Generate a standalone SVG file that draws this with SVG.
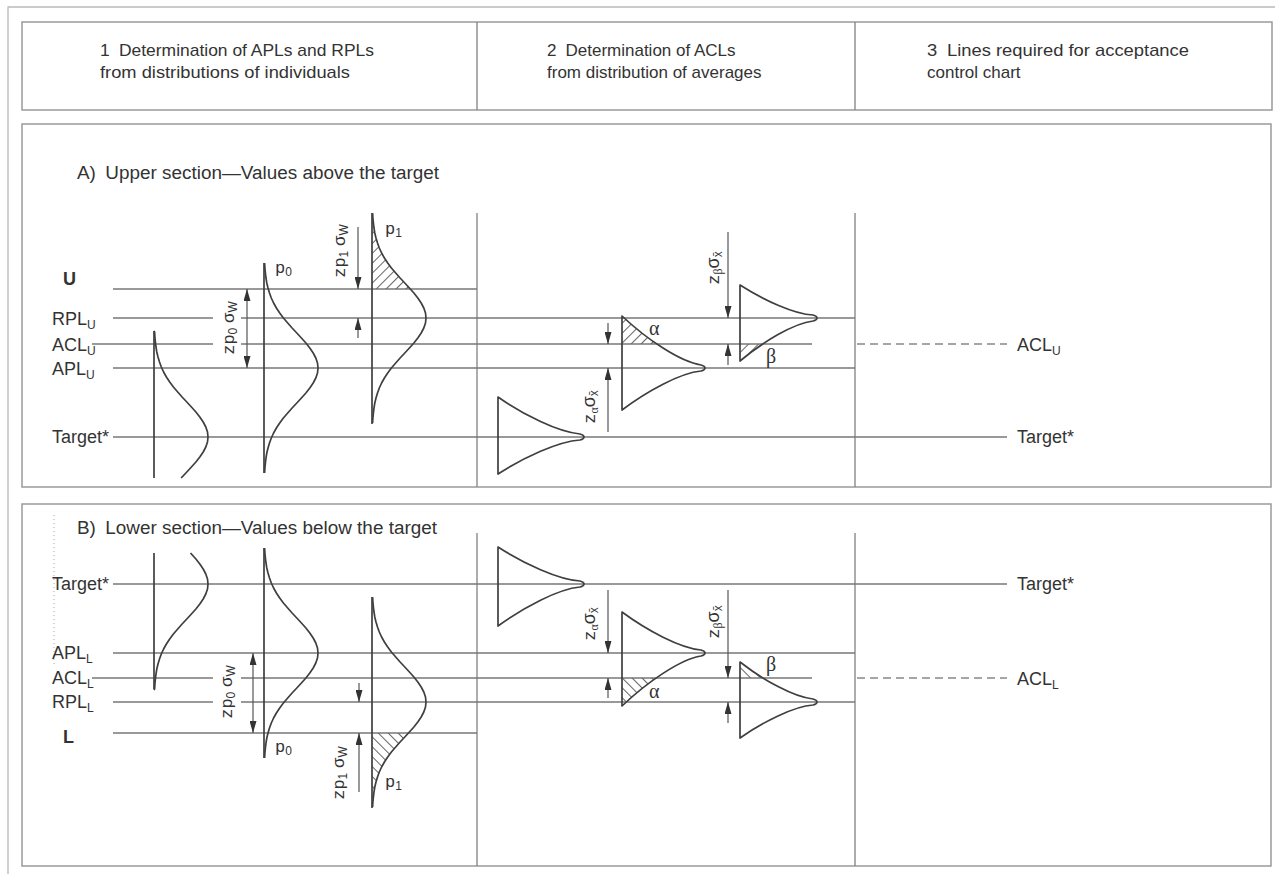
<svg xmlns="http://www.w3.org/2000/svg" width="1275" height="874" viewBox="0 0 1275 874">
<style>
 .frame{fill:none;stroke:#9a9a9a;stroke-width:1.5}
 .outer{fill:none;stroke:#bbb;stroke-width:1.3}
 .div{stroke:#8a8a8a;stroke-width:1.4}
 .lvl{stroke:#777;stroke-width:1.3;fill:none}
 .dash{stroke:#888;stroke-width:1.3;stroke-dasharray:8 5}
 .crv{fill:none;stroke:#3f3f3f;stroke-width:1.7;stroke-linejoin:round}
 .base{stroke:#3f3f3f;stroke-width:1.7}
 .arw{stroke:#555;stroke-width:1.2;fill:none;marker-end:url(#ah)}
 .t{font-family:"Liberation Sans",Arial,sans-serif;font-size:17px;fill:#333}
 .lb{font-family:"Liberation Sans",Arial,sans-serif;font-size:18px;fill:#333}
 .b{font-weight:bold}
 .m{font-family:"Liberation Mono","DejaVu Sans Mono",monospace;font-size:17px;fill:#333}
 .s{font-family:"Liberation Sans",Arial,sans-serif}
 .g{font-family:"Liberation Serif","DejaVu Serif",serif;font-size:20px;fill:#333}
 .sub{font-size:12px}
 .hU{fill:url(#hatchU);stroke:none}
 .hL{fill:url(#hatchL);stroke:none}
</style>
<defs>
 <marker id="ah" viewBox="0 0 12 7" refX="12" refY="3.5" markerWidth="12" markerHeight="7" markerUnits="userSpaceOnUse" orient="auto">
  <path d="M0,0 L12,3.5 L0,7 Z" fill="#333"/>
 </marker>
 <pattern id="hatchU" width="7" height="7" patternUnits="userSpaceOnUse" patternTransform="rotate(45)">
  <line x1="3.5" y1="-1" x2="3.5" y2="8" stroke="#666" stroke-width="1"/>
 </pattern>
 <pattern id="hatchL" width="7" height="7" patternUnits="userSpaceOnUse" patternTransform="rotate(-45)">
  <line x1="3.5" y1="-1" x2="3.5" y2="8" stroke="#666" stroke-width="1"/>
 </pattern>
 <clipPath id="cUB"><rect x="0" y="-53" width="84" height="29"/></clipPath>
 <clipPath id="cUC"><rect x="0" y="26" width="78" height="18"/></clipPath>
 <clipPath id="cLB"><rect x="0" y="25" width="84" height="29"/></clipPath>
 <clipPath id="cLC"><rect x="0" y="-41" width="78" height="17"/></clipPath>
 <path id="bell" d="M0.6,-105 L0.9,-100 L1.4,-95 L2,-90 L2.8,-85 L4,-80 L5.5,-75 L7.3,-70 L9.6,-65 L12.4,-60 L15.7,-55 L19.4,-50 L23.7,-45 L28.1,-40 L32.8,-35 L37.4,-30 L41.9,-25 L45.8,-20 L49.2,-15 L51.8,-10 L53.5,-5 L54,0 L53.5,5 L51.8,10 L49.2,15 L45.8,20 L41.9,25 L37.4,30 L32.8,35 L28.1,40 L23.7,45 L19.4,50 L15.7,55 L12.4,60 L9.6,65 L7.3,70 L5.5,75 L4,80 L2.8,85 L2,90 L1.4,95 L0.9,100 L0.6,105"/>
</defs>

<rect width="1275" height="874" fill="#fff"/>

<!-- frames -->
<g id="frames">
 <path class="outer" d="M8,874 L8,7 L1275,7"/>
 <rect class="frame" x="22" y="22" width="1250" height="88"/>
 <rect class="frame" x="22" y="124" width="1249" height="363"/>
 <rect class="frame" x="22" y="504" width="1249" height="362"/>
 <line class="div" x1="477" y1="22" x2="477" y2="110"/>
 <line class="div" x1="855" y1="22" x2="855" y2="110"/>
 <line class="div" x1="477" y1="213" x2="477" y2="487"/>
 <line class="div" x1="855" y1="213" x2="855" y2="487"/>
 <line class="div" x1="477" y1="533" x2="477" y2="866"/>
 <line class="div" x1="855" y1="533" x2="855" y2="866"/>
 <line x1="54" y1="515" x2="54" y2="665" stroke="#aaa" stroke-width="1" stroke-dasharray="1 3"/>
</g>

<!-- header -->
<g id="header">
 <text class="t" x="100" y="56" textLength="274" lengthAdjust="spacingAndGlyphs">1<tspan dx="9">Determination of APLs and RPLs</tspan></text>
 <text class="t" x="100" y="78" textLength="250" lengthAdjust="spacingAndGlyphs">from distributions of individuals</text>
 <text class="t" x="547" y="56">2<tspan dx="9">Determination of ACLs</tspan></text>
 <text class="t" x="547" y="78">from distribution of averages</text>
 <text class="t" x="927" y="56" textLength="262" lengthAdjust="spacingAndGlyphs">3<tspan dx="9">Lines required for acceptance</tspan></text>
 <text class="t" x="927" y="78">control chart</text>
</g>

<!-- level lines -->
<g id="levels">
 <line class="lvl" x1="113" y1="289" x2="477" y2="289"/>
 <line class="lvl" x1="113" y1="318" x2="855" y2="318"/>
 <line class="lvl" x1="92" y1="344" x2="812" y2="344"/>
 <line class="dash" x1="857" y1="344" x2="1007" y2="344"/>
 <line class="lvl" x1="113" y1="368" x2="855" y2="368"/>
 <line class="lvl" x1="113" y1="437" x2="1007" y2="437"/>

 <line class="lvl" x1="113" y1="584" x2="1007" y2="584"/>
 <line class="lvl" x1="113" y1="653" x2="855" y2="653"/>
 <line class="lvl" x1="92" y1="678" x2="812" y2="678"/>
 <line class="dash" x1="857" y1="678" x2="1007" y2="678"/>
 <line class="lvl" x1="113" y1="702" x2="855" y2="702"/>
 <line class="lvl" x1="113" y1="733" x2="477" y2="733"/>
 <rect x="213" y="296" width="28" height="62" fill="#fff"/>
 <rect x="213" y="660" width="28" height="62" fill="#fff"/>
</g>

<!-- upper section -->
<g id="upper">
 <text class="lb" x="77" y="179" textLength="362" lengthAdjust="spacingAndGlyphs">A)<tspan dx="9">Upper section</tspan>—Values above the target</text>
 <text class="lb b" x="63" y="285">U</text>
 <text class="lb" x="52" y="325">RPL<tspan class="sub" dy="4">U</tspan></text>
 <text class="lb" x="52" y="351">ACL<tspan class="sub" dy="4">U</tspan></text>
 <text class="lb" x="52" y="375">APL<tspan class="sub" dy="4">U</tspan></text>
 <text class="lb" x="52" y="443">Target*</text>
 <text class="lb" x="1017" y="351">ACL<tspan class="sub" dy="4">U</tspan></text>
 <text class="lb" x="1017" y="443">Target*</text>

 <g id="u-ind" transform="translate(154,437)">
  <line class="base" x1="0" y1="-106" x2="0" y2="41"/>
  <path class="crv" d="M0,-106 L0.6,-105 L0.9,-100 L1.4,-95 L2,-90 L2.8,-85 L4,-80 L5.5,-75 L7.3,-70 L9.6,-65 L12.4,-60 L15.7,-55 L19.4,-50 L23.7,-45 L28.1,-40 L32.8,-35 L37.4,-30 L41.9,-25 L45.8,-20 L49.2,-15 L51.8,-10 L53.5,-5 L54,0 L53.5,5 L51.8,10 L49.2,15 L45.8,20 L41.9,25 L37.4,30 L32.8,35 L28.1,40 L27.2,41"/>
 </g>
 <g id="u-p0" transform="translate(264,368)">
  <line class="base" x1="0" y1="-105" x2="0" y2="105"/>
  <use href="#bell" class="crv"/>
  <text class="m" x="11" y="-95">p<tspan class="s sub" dy="3">0</tspan></text>
 </g>
 <g id="u-p1" transform="translate(372,318)">
  <path class="hU" d="M0,-105 L0.6,-105 L0.9,-100 L1.4,-95 L2,-90 L2.8,-85 L4,-80 L5.5,-75 L7.3,-70 L9.6,-65 L12.4,-60 L15.7,-55 L19.4,-50 L23.7,-45 L28.1,-40 L32.8,-35 L37.4,-30 L38.3,-29 L0,-29 Z"/>
  <line class="base" x1="0" y1="-105" x2="0" y2="106"/>
  <use href="#bell" class="crv"/>
  <text class="m" x="13" y="-84">p<tspan class="s sub" dy="3">1</tspan></text>
 </g>
 <g id="u-avgT" transform="translate(498,437)">
  <path class="crv" d="M0,-40 C25.8,-22 60.2,-4.8 82,-3 Q86,-2 86,0 Q86,2 82,3 C60.2,4.4 25.8,20.4 0,37 Z"/>
 </g>
 <g id="u-avgA" transform="translate(622,368)">
  <path class="hU" clip-path="url(#cUB)" d="M0,-52 C24.9,-28.6 58.1,-6.2 79,-3 Q83,-2 83,0 Q83,2 79,3 C58.1,5 24.9,23.1 0,42 Z"/>
  <path class="crv" d="M0,-52 C24.9,-28.6 58.1,-6.2 79,-3 Q83,-2 83,0 Q83,2 79,3 C58.1,5 24.9,23.1 0,42 Z"/>
  <text class="g" x="27" y="-33">α</text>
 </g>
 <g id="u-avgR" transform="translate(740,318)">
  <path class="hU" clip-path="url(#cUC)" d="M0,-33 C23.1,-18.2 53.9,-4 73,-3 Q77,-2 77,0 Q77,2 73,3 C53.9,5.2 23.1,23.7 0,43 Z"/>
  <path class="crv" d="M0,-33 C23.1,-18.2 53.9,-4 73,-3 Q77,-2 77,0 Q77,2 73,3 C53.9,5.2 23.1,23.7 0,43 Z"/>
  <text class="g" x="26" y="45">β</text>
 </g>
 <g id="u-labels">
  <text class="m" transform="translate(234,328) rotate(-90)" text-anchor="middle">zp<tspan class="s sub" dy="3">0</tspan><tspan class="s" dy="-3" font-size="17"> σ</tspan><tspan class="s sub" dy="3">W</tspan></text>
  <text class="m" transform="translate(345,251) rotate(-90)" text-anchor="middle">zp<tspan class="s sub" dy="3">1</tspan><tspan class="s" dy="-3" font-size="17"> σ</tspan><tspan class="s sub" dy="3">W</tspan></text>
  <text class="m" transform="translate(595,407) rotate(-90)" text-anchor="middle">z<tspan class="g sub" dy="3">α</tspan><tspan class="s" dy="-3" font-size="18">σ</tspan><tspan class="s sub" dy="3">x̄</tspan></text>
  <text class="m" transform="translate(719,268) rotate(-90)" text-anchor="middle">z<tspan class="g sub" dy="3">β</tspan><tspan class="s" dy="-3" font-size="18">σ</tspan><tspan class="s sub" dy="3">x̄</tspan></text>
 </g>
</g>

<!-- lower section -->
<g id="lower">
 <text class="lb" x="77" y="534" textLength="360" lengthAdjust="spacingAndGlyphs">B)<tspan dx="9">Lower section</tspan>—Values below the target</text>
 <text class="lb" x="52" y="590">Target*</text>
 <text class="lb" x="52" y="659">APL<tspan class="sub" dy="4">L</tspan></text>
 <text class="lb" x="52" y="684">ACL<tspan class="sub" dy="4">L</tspan></text>
 <text class="lb" x="52" y="708">RPL<tspan class="sub" dy="4">L</tspan></text>
 <text class="lb b" x="63" y="743">L</text>
 <text class="lb" x="1017" y="590">Target*</text>
 <text class="lb" x="1017" y="685">ACL<tspan class="sub" dy="4">L</tspan></text>

 <g id="l-ind" transform="translate(154,584)">
  <line class="base" x1="0" y1="-31" x2="0" y2="105"/>
  <path class="crv" d="M36.5,-31 L37.4,-30 L41.9,-25 L45.8,-20 L49.2,-15 L51.8,-10 L53.5,-5 L54,0 L53.5,5 L51.8,10 L49.2,15 L45.8,20 L41.9,25 L37.4,30 L32.8,35 L28.1,40 L23.7,45 L19.4,50 L15.7,55 L12.4,60 L9.6,65 L7.3,70 L5.5,75 L4,80 L2.8,85 L2,90 L1.4,95 L0.9,100 L0.6,105 L0,106"/>
 </g>
 <g id="l-p0" transform="translate(264,653)">
  <line class="base" x1="0" y1="-105" x2="0" y2="105"/>
  <use href="#bell" class="crv"/>
  <text class="m" x="11" y="99">p<tspan class="s sub" dy="3">0</tspan></text>
 </g>
 <g id="l-p1" transform="translate(372,702)">
  <path class="hL" d="M0,31 L36.5,31 L32.8,35 L28.1,40 L23.7,45 L19.4,50 L15.7,55 L12.4,60 L9.6,65 L7.3,70 L5.5,75 L4,80 L2.8,85 L2,90 L1.4,95 L0.9,100 L0.6,105 L0,105 Z"/>
  <line class="base" x1="0" y1="-105" x2="0" y2="106"/>
  <use href="#bell" class="crv"/>
  <text class="m" x="13" y="85">p<tspan class="s sub" dy="3">1</tspan></text>
 </g>
 <g id="l-avgT" transform="translate(498,584)">
  <path class="crv" d="M0,-37 C25.8,-20.4 60.2,-4.4 82,-3 Q86,-2 86,0 Q86,2 82,3 C60.2,5 25.8,23.1 0,42 Z"/>
 </g>
 <g id="l-avgA" transform="translate(622,653)">
  <path class="hL" clip-path="url(#cLB)" d="M0,-41 C24.9,-22.6 58.1,-4.9 79,-3 Q83,-2 83,0 Q83,2 79,3 C58.1,6.4 24.9,29.2 0,53 Z"/>
  <path class="crv" d="M0,-41 C24.9,-22.6 58.1,-4.9 79,-3 Q83,-2 83,0 Q83,2 79,3 C58.1,6.4 24.9,29.2 0,53 Z"/>
  <text class="g" x="27" y="45">α</text>
 </g>
 <g id="l-avgR" transform="translate(740,702)">
  <path class="hL" clip-path="url(#cLC)" d="M0,-40 C23.1,-22 53.9,-4.8 73,-3 Q77,-2 77,0 Q77,2 73,3 C53.9,4.3 23.1,19.8 0,36 Z"/>
  <path class="crv" d="M0,-40 C23.1,-22 53.9,-4.8 73,-3 Q77,-2 77,0 Q77,2 73,3 C53.9,4.3 23.1,19.8 0,36 Z"/>
  <text class="g" x="26" y="-31">β</text>
 </g>
 <g id="l-labels">
  <text class="m" transform="translate(232,692) rotate(-90)" text-anchor="middle">zp<tspan class="s sub" dy="3">0</tspan><tspan class="s" dy="-3" font-size="17"> σ</tspan><tspan class="s sub" dy="3">W</tspan></text>
  <text class="m" transform="translate(344,773) rotate(-90)" text-anchor="middle">zp<tspan class="s sub" dy="3">1</tspan><tspan class="s" dy="-3" font-size="17"> σ</tspan><tspan class="s sub" dy="3">W</tspan></text>
  <text class="m" transform="translate(595,624) rotate(-90)" text-anchor="middle">z<tspan class="g sub" dy="3">α</tspan><tspan class="s" dy="-3" font-size="18">σ</tspan><tspan class="s sub" dy="3">x̄</tspan></text>
  <text class="m" transform="translate(719,622) rotate(-90)" text-anchor="middle">z<tspan class="g sub" dy="3">β</tspan><tspan class="s" dy="-3" font-size="18">σ</tspan><tspan class="s sub" dy="3">x̄</tspan></text>
 </g>
</g>

<!-- dimension arrows -->
<g id="connectors">
 <path class="arw" d="M247,328 L247,289"/>
 <path class="arw" d="M247,328 L247,368"/>
 <path class="arw" d="M358,227 L358,289"/>
 <path class="arw" d="M358,338 L358,318"/>
 <path class="arw" d="M608,323 L608,344"/>
 <path class="arw" d="M608,432 L608,368"/>
 <path class="arw" d="M728,232 L728,318"/>
 <path class="arw" d="M728,365 L728,344"/>

 <path class="arw" d="M253,693 L253,653"/>
 <path class="arw" d="M253,693 L253,733"/>
 <path class="arw" d="M359,683 L359,702"/>
 <path class="arw" d="M359,792 L359,733"/>
 <path class="arw" d="M608,590 L608,653"/>
 <path class="arw" d="M608,698 L608,678"/>
 <path class="arw" d="M728,590 L728,678"/>
 <path class="arw" d="M728,723 L728,702"/>
</g>
</svg>
